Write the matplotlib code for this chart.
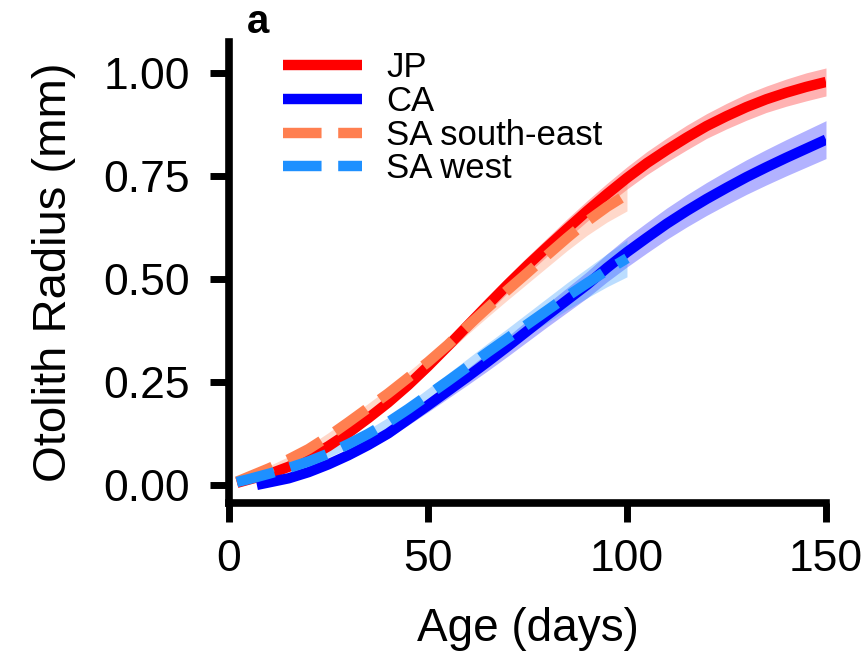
import matplotlib
matplotlib.use("Agg")
import matplotlib.pyplot as plt
import numpy as np

plt.rcParams['font.family'] = ['Liberation Sans', 'DejaVu Sans']

# ---- data ----
jp_age = [2, 5, 10, 15, 20, 25, 30, 35, 40, 45, 50, 55, 60, 65, 70, 75, 80, 85,
          90, 95, 100, 105, 110, 115, 120, 125, 130, 135, 140, 145, 150]
jp_r   = [0.005, 0.013, 0.026, 0.044, 0.066, 0.094, 0.126, 0.162, 0.2, 0.242,
          0.288, 0.337, 0.387, 0.437, 0.486, 0.533, 0.578, 0.622, 0.665, 0.706,
          0.745, 0.781, 0.813, 0.843, 0.871, 0.895, 0.917, 0.936, 0.952, 0.966,
          0.978]
jp_ci  = [0.004, 0.005, 0.006, 0.007, 0.008, 0.009, 0.01, 0.011, 0.012, 0.013,
          0.015, 0.016, 0.018, 0.019, 0.02, 0.021, 0.022, 0.024, 0.025, 0.026,
          0.027, 0.028, 0.029, 0.03, 0.03, 0.031, 0.032, 0.032, 0.033, 0.034,
          0.034]

ca_age = [7, 10, 15, 20, 25, 30, 35, 40, 45, 50, 55, 60, 65, 70, 75, 80, 85, 90,
          95, 100, 105, 110, 115, 120, 125, 130, 135, 140, 145, 150]
ca_r   = [0.0, 0.006, 0.016, 0.031, 0.05, 0.072, 0.097, 0.125, 0.159, 0.193,
          0.228, 0.263, 0.299, 0.336, 0.374, 0.412, 0.449, 0.486, 0.527, 0.565,
          0.600, 0.634, 0.665, 0.694, 0.721, 0.747, 0.771, 0.794, 0.816, 0.838]
ca_ci  = [0.003, 0.004, 0.005, 0.006, 0.007, 0.009, 0.01, 0.012, 0.014, 0.016,
          0.018, 0.02, 0.022, 0.024, 0.026, 0.028, 0.03, 0.032, 0.034, 0.036,
          0.037, 0.038, 0.039, 0.04, 0.041, 0.042, 0.043, 0.044, 0.045, 0.046]

sase_age = [2, 5, 10, 15, 20, 25, 30, 35, 40, 45, 50, 55, 60, 65, 70, 75, 80,
            85, 90, 95, 100]
sase_r   = [0.008, 0.02, 0.04, 0.062, 0.087, 0.118, 0.152, 0.187, 0.222, 0.26,
            0.298, 0.34, 0.386, 0.43, 0.473, 0.515, 0.558, 0.60, 0.64, 0.675, 0.705]
sase_ci  = [0.004, 0.005, 0.006, 0.007, 0.008, 0.009, 0.01, 0.011, 0.012, 0.014,
            0.016, 0.018, 0.02, 0.022, 0.024, 0.026, 0.029, 0.031, 0.034, 0.037,
            0.04]

saw_age = [2, 5, 10, 15, 20, 25, 30, 35, 40, 45, 50, 55, 60, 65, 70, 75, 80,
           85, 90, 95, 100]
saw_r   = [0.007, 0.014, 0.027, 0.041, 0.057, 0.076, 0.099, 0.124, 0.152, 0.184,
           0.218, 0.252, 0.287, 0.322, 0.356, 0.39, 0.424, 0.458, 0.49, 0.521,
           0.55]
saw_ci  = [0.004, 0.005, 0.006, 0.007, 0.008, 0.009, 0.01, 0.011, 0.012, 0.014,
           0.016, 0.018, 0.02, 0.022, 0.024, 0.027, 0.03, 0.033, 0.036, 0.04,
           0.045]

labels = ["JP", "CA", "SA south-east", "SA west"]
xticks = [0, 50, 100, 150]
yticks = [0.00, 0.25, 0.50, 0.75, 1.00]

# ---- figure ----
fig = plt.figure(figsize=(8.68, 6.52), dpi=100)
ax = fig.add_axes([0.2638, 0.2285, 0.6878, 0.7071])

series = [
    (jp_age, jp_r, jp_ci, '#ff0000', '-', 0.3),
    (ca_age, ca_r, ca_ci, '#0000ff', '-', 0.3),
    (sase_age, sase_r, sase_ci, '#ff7f50', '--', 0.3),
    (saw_age, saw_r, saw_ci, '#1e90ff', '--', 0.3),
]

for (a, r, ci, c, ls, al), lab in zip(series, labels):
    a = np.asarray(a); r = np.asarray(r); ci = np.asarray(ci)
    ax.fill_between(a, r - ci, r + ci, color=c, alpha=al, lw=0)
    ax.plot(a, r, color=c, ls=ls, lw=7.5, label=lab, solid_capstyle='butt',
            dash_capstyle='butt', solid_joinstyle='round')

ax.set_xlim(0, 150)
ax.set_ylim(-0.044, 1.075)
ax.set_xticks(xticks)
ax.set_xticklabels([str(t) for t in xticks])
ax.set_yticks(yticks)
ax.set_yticklabels([f"{t:.2f}" for t in yticks])

for s in ['top', 'right']:
    ax.spines[s].set_visible(False)
for s in ['left', 'bottom']:
    ax.spines[s].set_linewidth(5.5)
ax.tick_params(axis='both', length=14, width=5, labelsize=32)
ax.tick_params(axis='x', pad=12)
ax.tick_params(axis='y', pad=14)

ax.set_xlabel("Age (days)", fontsize=33, labelpad=19)
ax.set_ylabel("Otolith Radius (mm)", fontsize=34, labelpad=20)

leg = ax.legend(loc='upper left', bbox_to_anchor=(0.067, 1.01), frameon=False,
                fontsize=25, handlelength=2.28, handletextpad=0.7,
                labelspacing=0.02, borderaxespad=0)

fig.text(0.284, 0.995, 'a', fontsize=29, fontweight='bold', va='top', ha='left')

fig.savefig("out.png", dpi=100)
